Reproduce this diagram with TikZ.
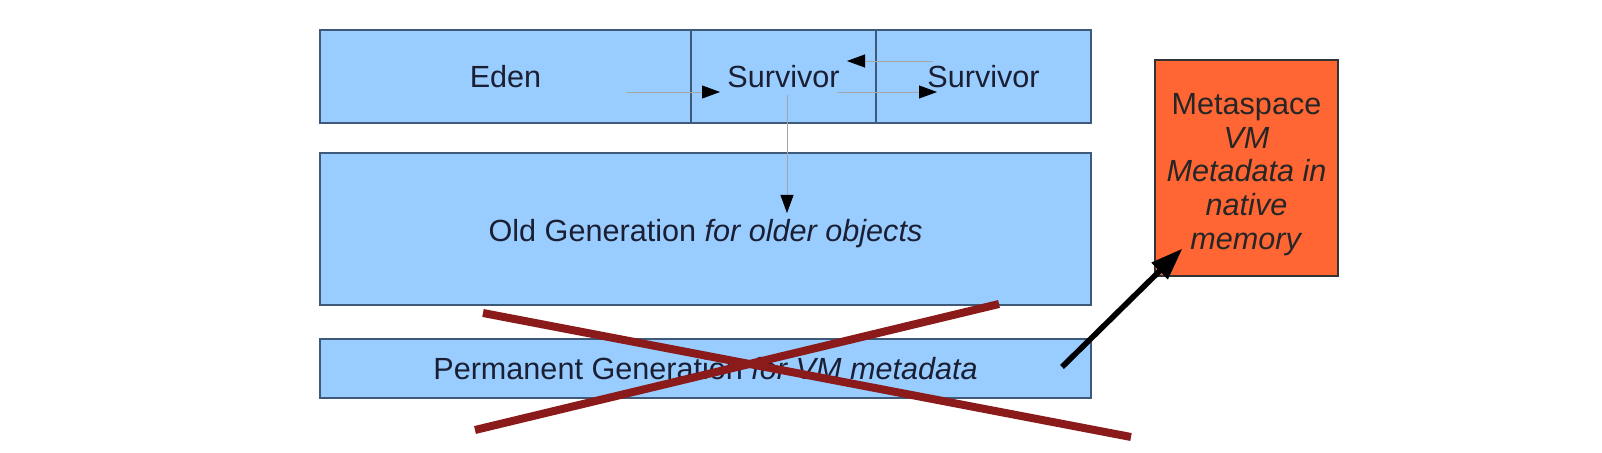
\documentclass[tikz,border=0pt]{standalone}
\usepackage{fontspec}
\setmainfont{Liberation Sans}
\usetikzlibrary{arrows.meta}
\definecolor{heapblue}{HTML}{99CCFF}
\definecolor{heapline}{HTML}{3F5A78}
\definecolor{metaorange}{HTML}{FF6633}
\definecolor{crossred}{HTML}{8B1A1A}
\definecolor{textnavy}{HTML}{1A1F33}

\begin{document}
\begin{tikzpicture}[x=0.5pt,y=-0.5pt,font=\fontsize{15.3}{17}\selectfont,text=textnavy,
  heapbox/.style={draw=heapline,fill=heapblue,line width=0.6pt,inner sep=0pt,outer sep=0pt},
  movearrow/.style={draw=gray!70,line width=0.4pt,-{Triangle[length=9pt,width=6.5pt,color=black]}},
  crossline/.style={crossred,line width=4pt}]
\useasboundingbox (0,0) rectangle (1602,453);

% young generation
\node [heapbox,minimum width=185.5pt,minimum height=46.5pt] (eden) at (505.5,76.5) {Eden};
\node [heapbox,minimum width=92.5pt,minimum height=46.5pt] (surv1) at (783.5,76.5) {Survivor};
\node [heapbox,minimum width=107.5pt,minimum height=46.5pt] (surv2) at (983.5,76.5) {Survivor};

% old and permanent generation
\node [heapbox,minimum width=385.5pt,minimum height=76pt,text height=16pt,text depth=3pt] (old) at (705.5,229) {Old Generation \textit{for older objects}};
\node [heapbox,minimum width=385.5pt,minimum height=29.5pt] (perm) at (705.5,368.5) {Permanent Generation \textit{for VM metadata}};

% metaspace
\node [draw=black!80,fill=metaorange,line width=0.6pt,minimum width=91.5pt,minimum height=108pt,
  align=center,text=black!85,font=\fontsize{15.3}{16.9}\selectfont] (meta) at (1246.5,168)
  {\rule{0pt}{17pt}Metaspace\\ \textit{VM}\\ \textit{Metadata in}\\ \textit{native}\\ \textit{memory}};

% copying between spaces
\coordinate (edenout) at ([shift={(-64,15.5)}]eden.east);
\coordinate (s1in) at ([shift={(29,15.5)}]surv1.west);
\coordinate (s1out) at ([shift={(-38,15.5)}]surv1.east);
\coordinate (s2in) at ([shift={(61,15.5)}]surv2.west);
\coordinate (s2back) at ([shift={(57,-15.5)}]surv2.west);
\coordinate (s1back) at ([shift={(-29,-15.5)}]surv1.east);
\coordinate (s1down) at ([shift={(3.5,18.5)}]surv1.center);
\coordinate (oldin) at ([shift={(81.5,-16)}]old.center);
\draw [movearrow] (edenout) -- (s1in);
\draw [movearrow] (s1out) -- (s2in);
\draw [movearrow] (s2back) -- (s1back);
\draw [movearrow] (s1down) -- (oldin);

% permgen crossed out
\draw [crossline] (483,313) -- (1131,437);
\draw [crossline] (475,430) -- (999,304);

\coordinate (permout) at ([shift={(-29,-1.5)}]perm.east);
\draw [black,line width=2.8pt,-{Triangle[length=16pt,width=11pt]}] (permout) -- ([shift={(28,-28)}]meta.south west);
\end{tikzpicture}
\end{document}
